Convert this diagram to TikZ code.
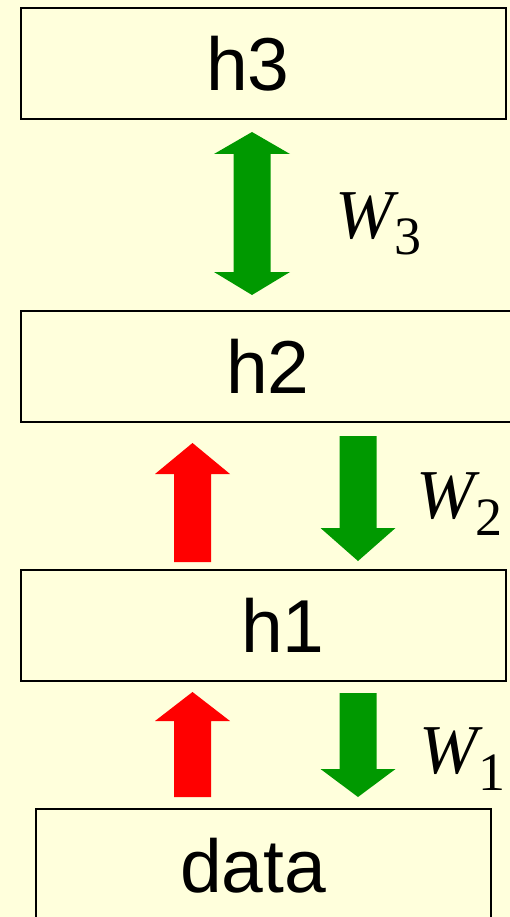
\documentclass[tikz,border=0pt]{standalone}
\usepackage{fontspec}
\setmainfont{Liberation Sans}
\newfontfamily\tmsfont{Liberation Serif}
\definecolor{bgyel}{HTML}{FFFFDC}
\definecolor{grn}{HTML}{009900}
\definecolor{rd}{HTML}{FF0000}
% block arrows: #1 colour, #2 x centre, #3 tip y, #4 head base y, #5 tail y
\newcommand\BlkArr[5]{%
  \fill[#1] (#2,#3) -- ++(37.5,{#4-#3}) -- (#2+18.5,#4) -- (#2+18.5,#5)
    -- (#2-18.5,#5) -- (#2-18.5,#4) -- (#2-37.5,#4) -- cycle;}
\newcommand\Wsub[1]{\tmsfont{\fontsize{70}{70}\selectfont\itshape W}\kern1pt\raisebox{-17pt}{\fontsize{54}{54}\selectfont #1}}
\begin{document}
\begin{tikzpicture}[x=1pt,y=-1pt,
  box/.style={draw=black, line width=2pt, fill=bgyel, rectangle, inner sep=0pt},
  lbl/.style={font=\fontsize{75}{75}\selectfont, inner sep=0pt, anchor=base},
  wlbl/.style={inner sep=0pt, anchor=base west}]
\useasboundingbox (0,0) rectangle (510,917);
\clip (0,0) rectangle (510,917);
\fill[bgyel] (0,0) rectangle (510,917);
\node[box, minimum width=485pt, minimum height=111pt] (h3) at (263.5,63.5) {};
\node[box, minimum width=491pt, minimum height=111pt] (h2) at (266.5,366.5) {};
\node[box, minimum width=485pt, minimum height=111pt] (h1) at (263.5,625.5) {};
\node[box, minimum width=455pt, minimum height=116pt] (data) at (263.5,867) {};
\node[lbl] (t3) at (248,91) {h3};
\node[lbl] (t2) at (268,393) {h2};
\node[lbl] (t1) at (283,652) {h1};
\node[lbl] (td) at (253,892) {data};
% W3 double arrow
\fill[grn] (252,132) -- (290,154) -- (270.5,154) -- (270.5,272) -- (290,272)
  -- (252,295) -- (214,272) -- (233.5,272) -- (233.5,154) -- (214,154) -- cycle;
\BlkArr{rd}{192.5}{443}{474}{562}
\BlkArr{grn}{358}{561}{528}{436}
\BlkArr{rd}{192.5}{692}{721}{797}
\BlkArr{grn}{358}{797}{769}{693}
\node[wlbl] (w3) at (335,238) {\Wsub{3}};
\node[wlbl] (w2) at (416,518) {\Wsub{2}};
\node[wlbl] (w1) at (419,773) {\Wsub{1}};
\end{tikzpicture}
\end{document}
